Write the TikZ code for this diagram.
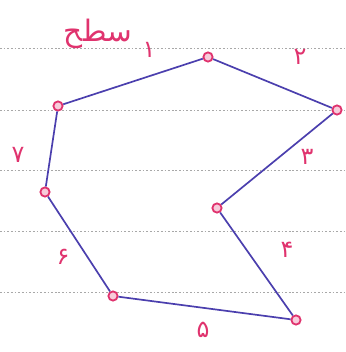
\documentclass[tikz,border=0pt]{standalone}
\usepackage{fontspec}
\newfontfamily\arabicfont[Script=Arabic]{DejaVu Sans}
\TeXXeTstate=1
\definecolor{inkred}{HTML}{E0336E}
\definecolor{inkblue}{HTML}{4B3FAE}
\definecolor{ruleline}{HTML}{A8A8A8}

\begin{document}
\begin{tikzpicture}[
  x=0.025cm,y=-0.025cm,
  vtx/.style={circle,draw=inkred,fill=inkred!25,line width=1.3pt,inner sep=0pt,minimum size=2.3mm},
  edge/.style={draw=inkblue,line width=1.2pt},
  num/.style={text=inkred,font=\arabicfont\fontsize{17}{20}\selectfont,inner sep=1pt},
  paper/.style={draw=ruleline,dash pattern=on 1.2pt off 1.4pt,line width=0.5pt}
]
\useasboundingbox[fill=white] (0,0) rectangle (345,352);
% ruled paper
\foreach \y in {48,110,170,231,292}
  \draw[paper] (0,\y) -- (345,\y);
% corners of the figure
\node[vtx] (top) at (208,57) {};
\node[vtx] (right) at (337,110) {};
\node[vtx] (notch) at (217,208) {};
\node[vtx] (botright) at (296,320) {};
\node[vtx] (botleft) at (113,296) {};
\node[vtx] (left) at (45,192) {};
\node[vtx] (upleft) at (58,106) {};
\draw[edge] (upleft) -- (top);
\draw[edge] (top) -- (right);
\draw[edge] (right) -- (notch);
\draw[edge] (notch) -- (botright);
\draw[edge] (botright) -- (botleft);
\draw[edge] (botleft) -- (left);
\draw[edge] (left) -- (upleft);
% side numbers
\node[num] (s1) at (149,50) {۱};
\node[num] (s2) at (300,57) {۲};
\node[num] (s3) at (307,157) {۳};
\node[num] (s4) at (287,250) {۴};
\node[num] (s5) at (203,330) {۵};
\node[num] (s6) at (63,257) {۶};
\node[num] (s7) at (18,155) {۷};
\node[num,font=\arabicfont\fontsize{21}{25}\selectfont] (title) at (98,34) {\beginR سطح\endR};
\end{tikzpicture}
\end{document}
